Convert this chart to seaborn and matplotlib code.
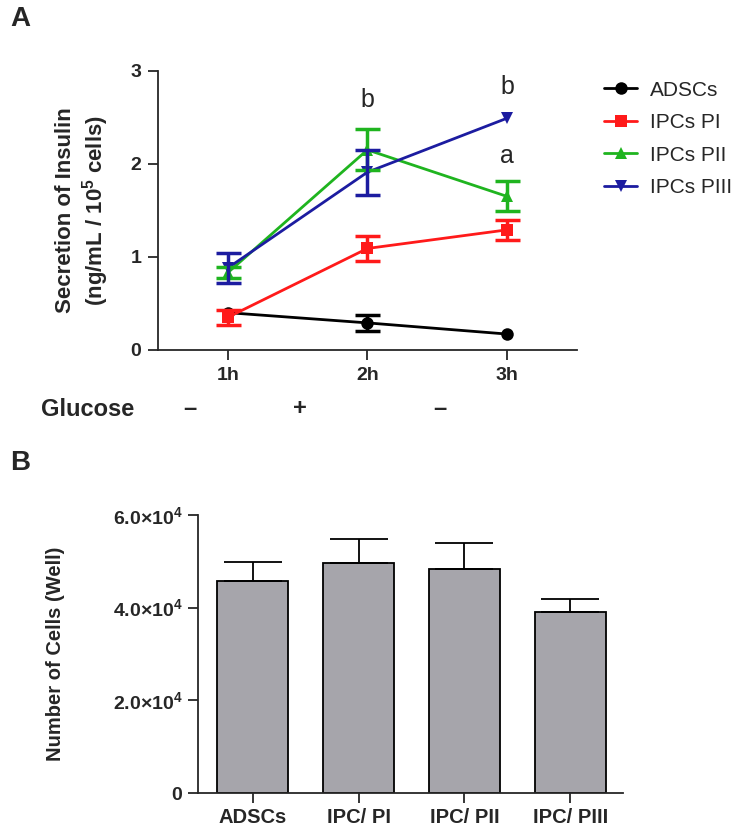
import numpy as np
import pandas as pd
import matplotlib.pyplot as plt
import seaborn as sns

# Panel A: insulin secretion
times = [1, 2, 3]
time_labels = ["1h", "2h", "3h"]
groups = ["ADSCs", "IPCs PI", "IPCs PII", "IPCs PIII"]
adscs = [0.40, 0.29, 0.17]
adscs_err = [0.00, 0.09, 0.00]
pi = [0.35, 1.09, 1.29]
pi_err = [0.08, 0.13, 0.11]
pii = [0.83, 2.15, 1.65]
pii_err = [0.06, 0.22, 0.16]
piii = [0.88, 1.91, 2.49]
piii_err = [0.16, 0.24, 0.00]
glucose_signs = ["–", "+", "–"]

# Panel B: cell number
cell_groups = ["ADSCs", "IPC/ PI", "IPC/ PII", "IPC/ PIII"]
cell_counts = [4.58e4, 4.95e4, 4.83e4, 3.90e4]
cell_err = [0.41e4, 0.52e4, 0.56e4, 0.29e4]
cell_ticks = [0, 2e4, 4e4, 6e4]
cell_tick_labels = ["0", r"2.0×10$^{4}$", r"4.0×10$^{4}$", r"6.0×10$^{4}$"]

sns.set_style("ticks")
plt.rcParams["font.family"] = ["Liberation Sans", "DejaVu Sans"]
plt.rcParams["mathtext.fontset"] = "custom"
plt.rcParams["mathtext.rm"] = "Liberation Sans:bold"
plt.rcParams["mathtext.it"] = "Liberation Sans:bold"
plt.rcParams["mathtext.bf"] = "Liberation Sans:bold"

colors = ["#000000", "#ff1a1a", "#1fb41f", "#1c1ca0"]
markers = ["o", "s", "^", "v"]

fig = plt.figure(figsize=(7.49, 8.33), dpi=100)

# ---------- A ----------
ax = fig.add_axes([0.211, 0.580, 0.559, 0.335])
df = pd.DataFrame({
    "time": times * 4,
    "value": adscs + pi + pii + piii,
    "err": adscs_err + pi_err + pii_err + piii_err,
    "group": np.repeat(groups, 3),
})
sns.lineplot(data=df, x="time", y="value", hue="group", style="group",
             markers=markers, dashes=False, palette=colors, hue_order=groups,
             style_order=groups, markersize=9, linewidth=2,
             markeredgewidth=0, ax=ax)
for g, c in zip(groups, colors):
    sub = df[df["group"] == g]
    sub = sub[sub["err"] > 0]
    ax.errorbar(sub["time"], sub["value"], yerr=sub["err"], fmt="none",
                ecolor=c, elinewidth=2.5, capsize=9, capthick=2.5)

ax.set_xlim(0.5, 3.5)
ax.set_ylim(0, 3)
ax.set_xticks(times)
ax.set_xticklabels(time_labels, fontweight="bold", fontsize=14)
ax.set_yticks([0, 1, 2, 3])
ax.set_yticklabels(["0", "1", "2", "3"], fontweight="bold", fontsize=14)
ax.set_xlabel("")
ax.set_ylabel("Secretion of Insulin\n(ng/mL / 10$^5$ cells)",
              fontweight="bold", fontsize=16, labelpad=14)
sns.despine(ax=ax)
ax.spines["left"].set_linewidth(1.3)
ax.spines["bottom"].set_linewidth(1.3)
ax.tick_params(length=7, width=1.3, pad=5)

ax.text(2, 2.69, "b", ha="center", va="center", fontsize=18)
ax.text(3, 2.83, "b", ha="center", va="center", fontsize=18)
ax.text(3, 2.08, "a", ha="center", va="center", fontsize=18)

ax.legend(loc="upper left", bbox_to_anchor=(1.045, 0.995), frameon=False,
          fontsize=15, handlelength=1.6, handletextpad=0.6, labelspacing=0.65,
          borderaxespad=0)

fig.text(0.117, 0.508, "Glucose", ha="center", va="center",
         fontweight="bold", fontsize=17)
for xs, s in zip([0.254, 0.400, 0.587], glucose_signs):
    fig.text(xs, 0.510, s, ha="center", va="center", fontweight="bold", fontsize=17)

fig.text(0.014, 0.977, "A", fontweight="bold", fontsize=20, va="center")
fig.text(0.014, 0.444, "B", fontweight="bold", fontsize=20, va="center")

# ---------- B ----------
bx = fig.add_axes([0.264, 0.048, 0.568, 0.334])
bdf = pd.DataFrame({"group": cell_groups, "count": cell_counts, "err": cell_err})
sns.barplot(data=bdf, x="group", y="count", color="#a6a5ab", errorbar=None,
            width=0.67, edgecolor="black", linewidth=1.3, saturation=1, ax=bx)
bx.errorbar(np.arange(len(cell_groups)), bdf["count"],
            yerr=[np.zeros(len(cell_err)), bdf["err"]], fmt="none",
            ecolor="black", elinewidth=1.3, capsize=21, capthick=1.3)
bx.set_xlim(-0.52, 3.5)
bx.set_ylim(0, 6e4)
bx.set_yticks(cell_ticks)
bx.set_yticklabels(cell_tick_labels, fontweight="bold", fontsize=14)
bx.set_xticks(range(len(cell_groups)))
bx.set_xticklabels(cell_groups, fontweight="bold", fontsize=14.5)
bx.set_xlabel("")
bx.set_ylabel("Number of Cells (Well)", fontweight="bold", fontsize=14.5, labelpad=34)
sns.despine(ax=bx)
bx.spines["left"].set_linewidth(1.3)
bx.spines["bottom"].set_linewidth(1.3)
bx.tick_params(length=7, width=1.3, pad=4)

fig.savefig("out.png", dpi=100)
